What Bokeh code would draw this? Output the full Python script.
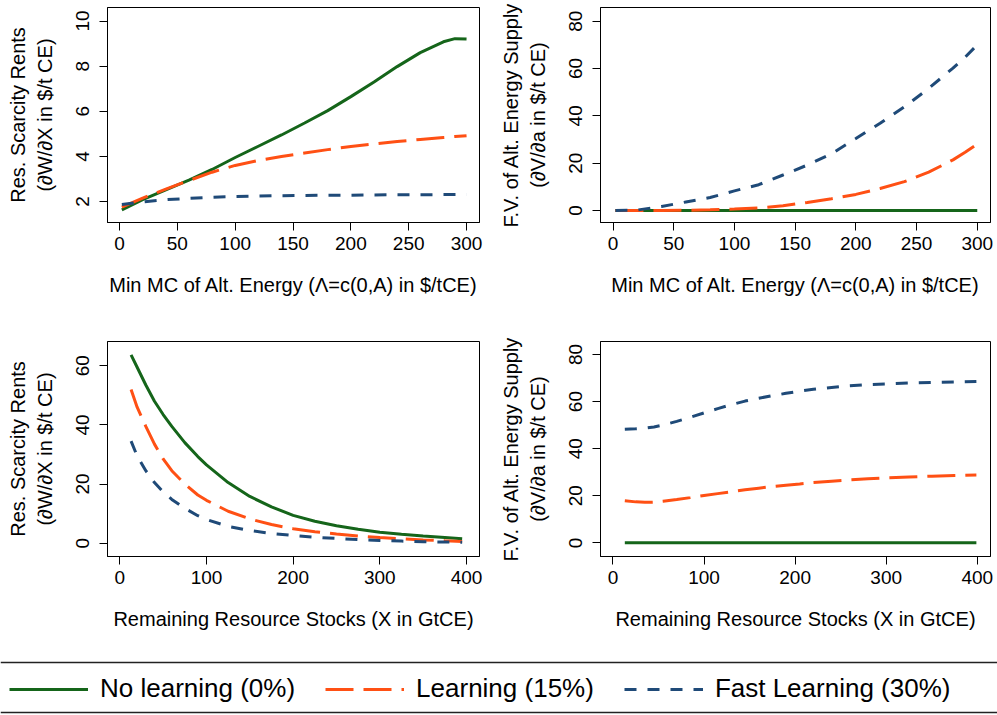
from bokeh.plotting import figure
from bokeh.models import Range1d, FixedTicker, Legend, LegendItem, Span
from bokeh.layouts import column, row
from bokeh.embed import file_html
from bokeh.resources import INLINE

FONT = "Liberation Sans"
GREEN = "#15651a"
ORANGE = "#ff5014"
BLUE = "#1f4a78"

series_names = ["No learning (0%)", "Learning (15%)", "Fast Learning (30%)"]

# ---- Panel 1: scarcity rents vs min MC of alt. energy ----
p1_x = [2, 20, 40, 60, 80, 100, 120, 140, 160, 180, 200, 220, 240, 260, 280, 290, 300]
p1_none = [1.63, 2.08, 2.52, 2.95, 3.42, 3.95, 4.45, 4.95, 5.48, 6.03, 6.65, 7.30, 7.98, 8.60, 9.08, 9.22, 9.20]
p1_learn = [1.75, 2.15, 2.55, 2.93, 3.30, 3.60, 3.82, 4.00, 4.15, 4.30, 4.44, 4.55, 4.66, 4.75, 4.84, 4.88, 4.92]
p1_fast = [1.87, 1.98, 2.08, 2.14, 2.19, 2.22, 2.24, 2.26, 2.27, 2.28, 2.28, 2.29, 2.30, 2.30, 2.31, 2.31, 2.31]

# ---- Panel 2: F.V. of alt. energy supply vs min MC ----
p2_x = [2, 20, 40, 60, 80, 100, 120, 140, 160, 180, 200, 220, 240, 260, 280, 290, 300]
p2_none = [0] * 17
p2_learn = [0, 0, 0, 0.1, 0.3, 0.6, 1.1, 2.0, 3.4, 5.0, 6.8, 9.3, 12.2, 16.2, 21.4, 24.6, 28.0]
p2_fast = [0, 0.2, 1.7, 3.6, 5.5, 8.3, 10.9, 15.0, 19.2, 24.0, 30.4, 36.9, 43.8, 51.6, 60.2, 64.8, 70.0]

# ---- Panel 3: scarcity rents vs remaining stocks ----
p3_x = [13, 20, 30, 40, 50, 60, 75, 90, 100, 125, 150, 175, 200, 225, 250, 275, 300, 325, 350, 375, 395]
p3_none = [63.7, 59.5, 53.5, 48.0, 43.5, 39.5, 34.0, 29.3, 26.5, 20.5, 15.8, 12.3, 9.4, 7.4, 5.9, 4.7, 3.7, 3.0, 2.4, 1.9, 1.5]
p3_learn = [52.0, 46.0, 39.5, 33.5, 28.5, 24.5, 20.0, 16.3, 14.5, 10.8, 8.2, 6.3, 4.9, 3.9, 3.1, 2.4, 1.9, 1.5, 1.1, 0.8, 0.6]
p3_fast = [34.5, 29.5, 24.5, 20.5, 17.3, 14.8, 11.8, 9.3, 8.0, 5.7, 4.3, 3.3, 2.6, 2.0, 1.6, 1.2, 0.9, 0.7, 0.5, 0.4, 0.3]

# ---- Panel 4: F.V. of alt. energy supply vs remaining stocks ----
p4_x = [13, 25, 35, 45, 55, 70, 85, 100, 115, 130, 145, 160, 175, 190, 205, 220, 240, 260, 280, 300, 325, 350, 375, 399]
p4_none = [0] * 24
p4_learn = [17.9, 17.4, 17.2, 17.3, 17.7, 18.4, 19.2, 20.1, 20.9, 21.7, 22.5, 23.2, 23.9, 24.5, 25.0, 25.6, 26.2, 26.7, 27.2, 27.6, 28.0, 28.3, 28.6, 28.8]
p4_fast = [48.2, 48.4, 48.7, 49.2, 50.0, 51.6, 53.3, 55.2, 57.0, 58.7, 60.2, 61.4, 62.5, 63.5, 64.4, 65.2, 66.0, 66.7, 67.2, 67.5, 67.9, 68.1, 68.3, 68.5]

# tick labels / axis texts
x_ticks_mc = [0, 50, 100, 150, 200, 250, 300]
x_ticks_stock = [0, 100, 200, 300, 400]
y_ticks_p1 = [2, 4, 6, 8, 10]
y_ticks_p2 = [0, 20, 40, 60, 80]
y_ticks_p3 = [0, 20, 40, 60]
y_ticks_p4 = [0, 20, 40, 60, 80]
xlab_mc = "Min MC of Alt. Energy (\u039b=c(0,A) in $/tCE)"
xlab_stock = "Remaining Resource Stocks (X in GtCE)"
ylab_rent = "Res. Scarcity Rents\n(\u2202W/\u2202X in $/t CE)"
ylab_fv = "F.V. of Alt. Energy Supply\n(\u2202V/\u2202a in $/t CE)"

STYLES = [
    dict(line_color=GREEN, line_width=3, line_dash="solid"),
    dict(line_color=ORANGE, line_width=3, line_dash="28 10"),
    dict(line_color=BLUE, line_width=3, line_dash="12 11"),
]


def make_fig(width, height, bl, br, bt, bb, xr, yr, xticks, yticks, xlabel, ylabel, xs, ys_list):
    p = figure(width=width, height=height, x_range=Range1d(*xr), y_range=Range1d(*yr),
               output_backend="svg", toolbar_location=None,
               min_border_left=bl, min_border_right=br, min_border_top=bt, min_border_bottom=bb)
    p.background_fill_color = "white"
    p.border_fill_color = "white"
    p.outline_line_color = "black"
    p.outline_line_width = 1
    p.xgrid.visible = False
    p.ygrid.visible = False
    for ax, ticks, lab in ((p.xaxis[0], xticks, xlabel), (p.yaxis[0], yticks, ylabel)):
        ax.ticker = FixedTicker(ticks=ticks)
        ax.axis_label = lab
        ax.axis_label_text_font = FONT
        ax.axis_label_text_font_style = "normal"
        ax.axis_label_text_color = "black"
        ax.axis_label_text_font_size = "20px"
        ax.major_label_text_font = FONT
        ax.major_label_text_font_size = "19px"
        ax.major_label_text_color = "black"
        ax.axis_line_color = "black"
        ax.major_tick_line_color = "black"
        ax.major_tick_out = 8
        ax.major_tick_in = 0
        ax.minor_tick_line_color = None
    p.xaxis[0].major_label_standoff = 6
    p.xaxis[0].axis_label_standoff = 21
    p.yaxis[0].major_label_orientation = "vertical"
    p.yaxis[0].major_label_standoff = 10
    p.yaxis[0].axis_label_standoff = 18
    for ys, st in zip(ys_list, STYLES):
        p.line(xs, ys, **st)
    return p


f1 = make_fig(497, 320, 107, 18, 7, 98, (-10.4, 311.2), (1.07, 10.6), x_ticks_mc, y_ticks_p1,
              xlab_mc, ylab_rent, p1_x, [p1_none, p1_learn, p1_fast])
f2 = make_fig(500, 320, 101, 7, 7, 98, (-10.3, 310.9), (-5.07, 85.8), x_ticks_mc, y_ticks_p2,
              xlab_mc, ylab_fv, p2_x, [p2_none, p2_learn, p2_fast])
f3 = make_fig(497, 330, 107, 18, 21, 94, (-14.2, 415.0), (-4.5, 68.2), x_ticks_stock, y_ticks_p3,
              xlab_stock, ylab_rent, p3_x, [p3_none, p3_learn, p3_fast])
f4 = make_fig(500, 330, 101, 7, 21, 94, (-13.7, 414.5), (-5.8, 85.5), x_ticks_stock, y_ticks_p4,
              xlab_stock, ylab_fv, p4_x, [p4_none, p4_learn, p4_fast])

# ---- legend strip ----
LH = 64
lf = figure(width=997, height=LH, x_range=Range1d(0, 1), y_range=Range1d(0, 1),
            output_backend="svg", toolbar_location=None, x_axis_type=None, y_axis_type=None,
            min_border=0)
lf.outline_line_color = None
lf.xgrid.visible = False
lf.ygrid.visible = False
lf.background_fill_color = "white"
lf.border_fill_color = "white"
lf.add_layout(Span(location=1 - 12 / LH, dimension="width", line_color="#222222", line_width=1.5))
lf.add_layout(Span(location=1 - 62 / LH, dimension="width", line_color="#222222", line_width=1.5))
items = []
# legend renderers reuse panel-1 data; it lies outside this strip's 0..1 ranges, so only the keys show
for name, ys, st in zip(series_names, [p1_none, p1_learn, p1_fast], STYLES):
    r = lf.line(p1_x, ys, **st)
    items.append(LegendItem(label=name, renderers=[r]))
leg = Legend(items=items, orientation="horizontal", location=(9, 10),
             glyph_width=79, glyph_height=20, label_standoff=12, spacing=30,
             label_text_font=FONT, label_text_font_size="26px", label_text_color="black",
             border_line_color=None, background_fill_alpha=0, padding=0, margin=0)
lf.add_layout(leg, "center")

layout = column(row(f1, f2), row(f3, f4), lf)
open("out.html", "w").write(file_html(layout, INLINE))
